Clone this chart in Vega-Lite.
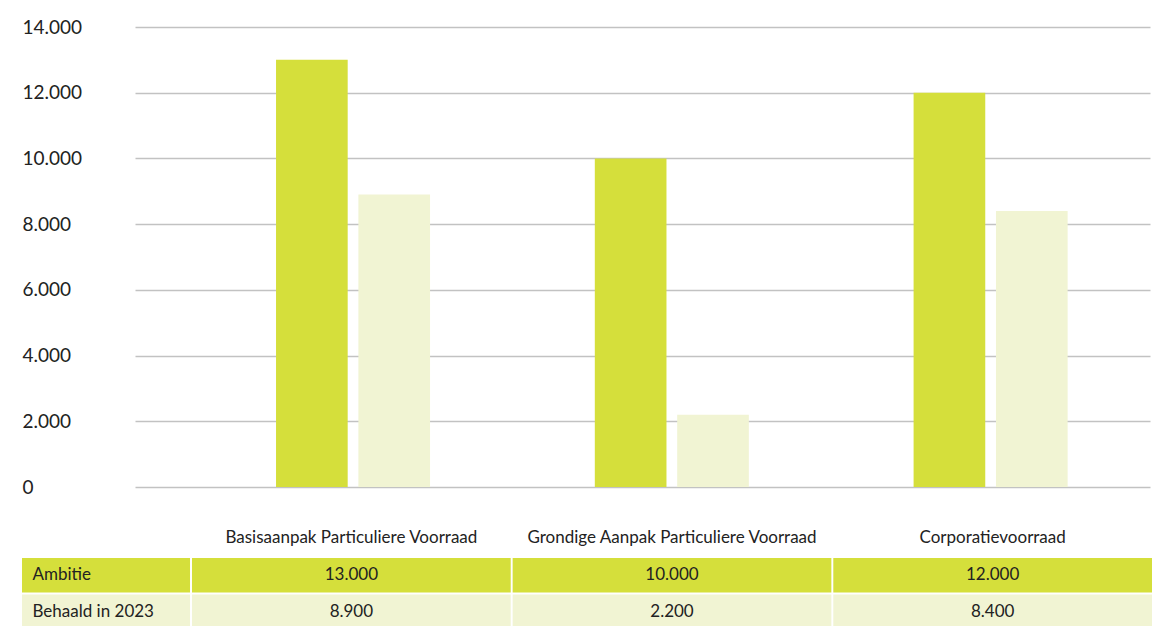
{
  "$schema": "https://vega.github.io/schema/vega-lite/v6.json",
  "padding": {"top": 18, "left": 22, "right": 0, "bottom": 0},
  "background": "white",
  "datasets": {
    "waarden": [
      {"categorie": "Basisaanpak Particuliere Voorraad", "reeks": "Ambitie", "waarde": 13000},
      {"categorie": "Basisaanpak Particuliere Voorraad", "reeks": "Behaald in 2023", "waarde": 8900},
      {"categorie": "Grondige Aanpak Particuliere Voorraad", "reeks": "Ambitie", "waarde": 10000},
      {"categorie": "Grondige Aanpak Particuliere Voorraad", "reeks": "Behaald in 2023", "waarde": 2200},
      {"categorie": "Corporatievoorraad", "reeks": "Ambitie", "waarde": 12000},
      {"categorie": "Corporatievoorraad", "reeks": "Behaald in 2023", "waarde": 8400}
    ],
    "rijen": [
      {"reeks": "Ambitie"},
      {"reeks": "Behaald in 2023"}
    ]
  },
  "vconcat": [
    {
      "width": 1130,
      "height": 460,
      "data": {"name": "waarden"},
      "mark": {"type": "bar"},
      "encoding": {
        "x": {
          "field": "categorie", "type": "nominal", "sort": null, "axis": null,
          "scale": {"range": [113, 1128], "paddingInner": 0, "paddingOuter": 0.092, "align": 1}
        },
        "xOffset": {
          "field": "reeks", "type": "nominal", "sort": ["Ambitie", "Behaald in 2023"],
          "scale": {"paddingInner": 0.13, "paddingOuter": 1.25}
        },
        "y": {
          "field": "waarde", "type": "quantitative",
          "scale": {"domain": [0, 14000]},
          "axis": {
            "title": null, "domain": false, "ticks": false, "minExtent": 0,
            "values": [0, 2000, 4000, 6000, 8000, 10000, 12000, 14000],
            "format": ",d",
            "labelAlign": "left", "labelPadding": 0, "labelFontSize": 19,
            "labelColor": "#222222", "labelFont": "Lato",
            "grid": true, "gridColor": "#c2c2c2", "gridWidth": 1.5
          }
        },
        "color": {
          "field": "reeks", "type": "nominal",
          "scale": {"domain": ["Ambitie", "Behaald in 2023"], "range": ["#d5df3b", "#f1f4d3"]},
          "legend": null
        }
      }
    },
    {
      "hconcat": [
        {
          "width": 168,
          "height": 71,
          "data": {"name": "rijen"},
          "mark": {"type": "rect"},
          "encoding": {
            "y": {
              "field": "reeks", "type": "nominal", "sort": ["Ambitie", "Behaald in 2023"],
              "scale": {"paddingInner": 0.055, "paddingOuter": 0},
              "axis": {
                "title": null, "domain": false, "ticks": false, "orient": "left",
                "labelAlign": "left", "labelPadding": -10, "labelFontSize": 17,
                "labelColor": "#222222", "labelFont": "Lato", "minExtent": 0, "zindex": 1
              }
            },
            "color": {
              "field": "reeks", "type": "nominal",
              "scale": {"domain": ["Ambitie", "Behaald in 2023"], "range": ["#d5df3b", "#f1f4d3"]},
              "legend": null
            }
          }
        },
        {
          "width": 960,
          "height": 71,
          "data": {"name": "waarden"},
          "encoding": {
            "x": {
              "field": "categorie", "type": "nominal", "sort": null,
              "scale": {"paddingInner": 0.006, "paddingOuter": 0},
              "axis": {
                "title": null, "orient": "top", "domain": false, "ticks": false,
                "labelAngle": 0, "labelPadding": 12, "labelFontSize": 17,
                "labelColor": "#222222", "labelFont": "Lato", "labelLimit": 400
              }
            },
            "y": {
              "field": "reeks", "type": "nominal", "sort": ["Ambitie", "Behaald in 2023"],
              "scale": {"paddingInner": 0.055, "paddingOuter": 0},
              "axis": null
            }
          },
          "layer": [
            {
              "mark": {"type": "rect"},
              "encoding": {
                "color": {
                  "field": "reeks", "type": "nominal",
                  "scale": {"domain": ["Ambitie", "Behaald in 2023"], "range": ["#d5df3b", "#f1f4d3"]},
                  "legend": null
                }
              }
            },
            {
              "mark": {"type": "text", "fontSize": 17, "font": "Lato", "color": "#222222"},
              "encoding": {
                "text": {"field": "waarde", "type": "quantitative", "format": ",d"}
              }
            }
          ]
        }
      ],
      "spacing": 2
    }
  ],
  "spacing": 31,
  "config": {
    "font": "Lato",
    "view": {"stroke": null},
    "locale": {
      "number": {"decimal": ",", "thousands": ".", "grouping": [3], "currency": ["€ ", ""]}
    }
  }
}
